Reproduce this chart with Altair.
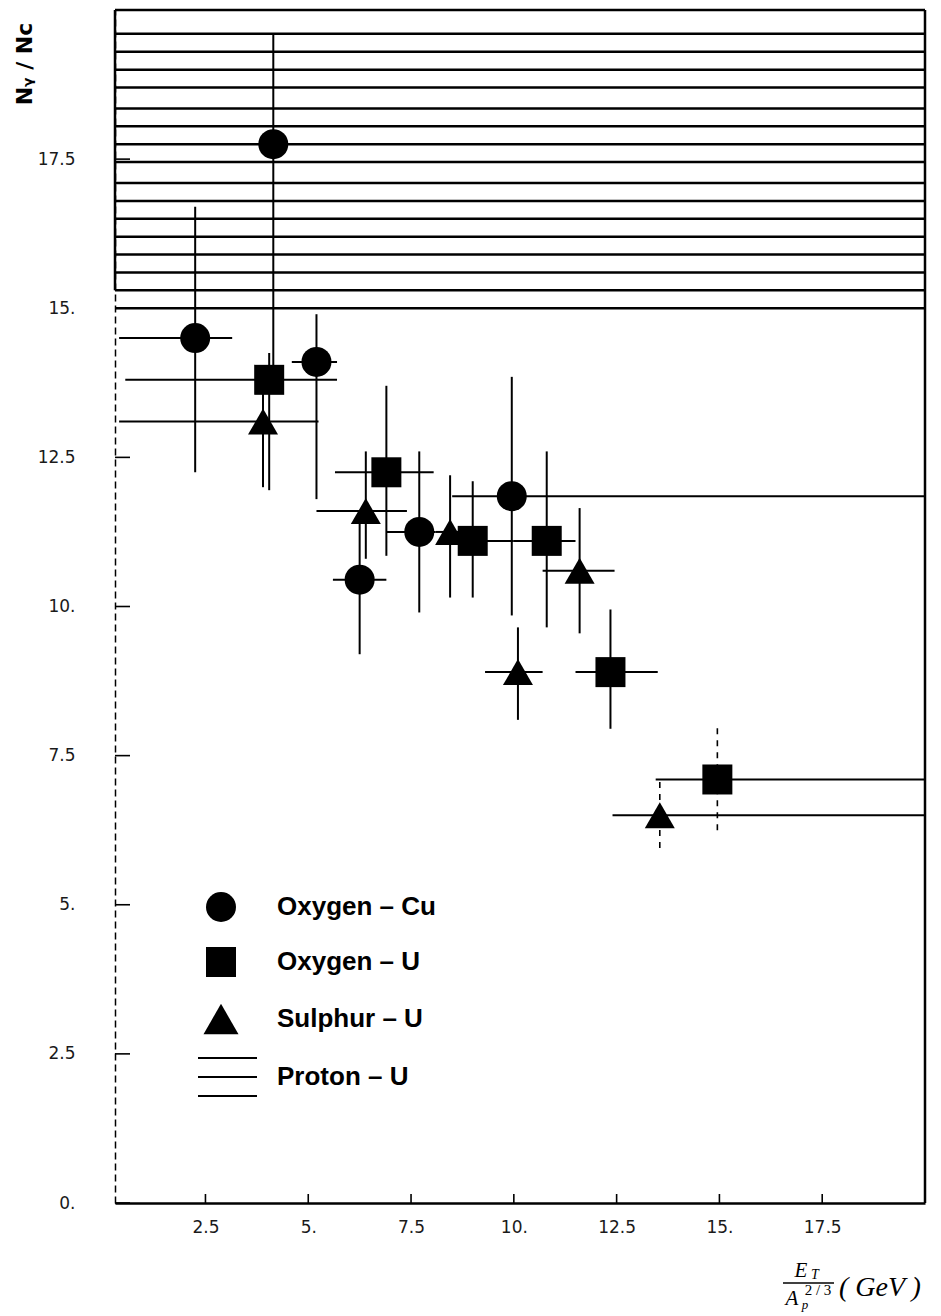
import altair as alt
import pandas as pd

# ---- measured ratios N_gamma / N_c versus E_T / A_p^(2/3) -------------------
SERIES = ["Oxygen – Cu", "Oxygen – U", "Sulphur – U"]

CU_X = [2.25, 4.15, 5.2, 6.25, 7.7, 9.95]
CU_Y = [14.5, 17.75, 14.1, 10.45, 11.25, 11.85]
CU_XLO = [0.4, 4.15, 4.6, 5.6, 6.9, 8.5]
CU_XHI = [3.15, 4.15, 5.7, 6.9, 8.1, 20.0]
CU_YLO = [12.25, 13.9, 11.8, 9.2, 9.9, 9.85]
CU_YHI = [16.7, 19.6, 14.9, 11.4, 12.6, 13.85]

OU_X = [4.05, 6.9, 9.0, 10.8, 12.35, 14.95]
OU_Y = [13.8, 12.25, 11.1, 11.1, 8.9, 7.1]
OU_XLO = [0.55, 5.65, 8.6, 10.0, 11.5, 13.45]
OU_XHI = [5.7, 8.05, 10.0, 11.5, 13.5, 20.0]
OU_YLO = [11.95, 10.85, 10.15, 9.65, 7.95, 6.25]
OU_YHI = [14.25, 13.7, 12.1, 12.6, 9.95, 8.0]

SU_X = [3.9, 6.4, 8.45, 10.1, 11.6, 13.55]
SU_Y = [13.1, 11.6, 11.25, 8.9, 10.6, 6.5]
SU_XLO = [0.4, 5.2, 8.1, 9.3, 10.7, 12.4]
SU_XHI = [5.25, 7.4, 8.8, 10.7, 12.45, 20.0]
SU_YLO = [12.0, 10.8, 10.15, 8.1, 9.55, 5.95]
SU_YHI = [13.8, 12.6, 12.2, 9.65, 11.65, 7.1]

# Proton – U band, drawn as horizontal hatching
PROTON_LINES = [15.0, 15.3, 15.6, 15.9, 16.2, 16.5, 16.8, 17.1, 17.45,
                17.75, 18.05, 18.35, 18.7, 19.0, 19.3, 19.6]
PROTON_LOW = 15.3
PROTON_HIGH = 20.0

X_TICKS = [2.5, 5.0, 7.5, 10.0, 12.5, 15.0, 17.5]
Y_TICKS = [0.0, 2.5, 5.0, 7.5, 10.0, 12.5, 15.0, 17.5]
X_MIN, X_MAX = 0.3, 20.0
Y_MIN, Y_MAX = 0.0, 20.0

W, H = 810, 1193


def frame(name, x, y, xlo, xhi, ylo, yhi):
    return pd.DataFrame({"series": name, "x": x, "y": y, "xlo": xlo,
                         "xhi": xhi, "ylo": ylo, "yhi": yhi})


data = pd.concat([
    frame(SERIES[0], CU_X, CU_Y, CU_XLO, CU_XHI, CU_YLO, CU_YHI),
    frame(SERIES[1], OU_X, OU_Y, OU_XLO, OU_XHI, OU_YLO, OU_YHI),
    frame(SERIES[2], SU_X, SU_Y, SU_XLO, SU_XHI, SU_YLO, SU_YHI),
], ignore_index=True)

# open-ended last bins of the uranium targets carry dashed vertical bars
open_bin = data["series"].isin(SERIES[1:]) & (data["xhi"] >= X_MAX)
solid_v = data[~open_bin]
dashed_v = data[open_bin]

LABEL_EXPR = ("datum.value % 1 == 0 ? format(datum.value, 'd') + '.' "
              ": format(datum.value, '.1f')")

xs = alt.Scale(domain=[X_MIN, X_MAX], nice=False, zero=False)
ys = alt.Scale(domain=[Y_MIN, Y_MAX], nice=False, zero=False)

x_axis = alt.Axis(values=X_TICKS, ticks=False, grid=False, title=None,
                  domainColor="black", domainWidth=2.5,
                  labelFont="DejaVu Sans", labelFontSize=17,
                  labelColor="#1a1a1a", labelPadding=16,
                  labelExpr=LABEL_EXPR)
y_axis = alt.Axis(values=Y_TICKS, ticks=False, grid=False, title=None,
                  domainColor="black", domainWidth=1.5, domainDash=[7, 4],
                  labelFont="DejaVu Sans", labelFontSize=17,
                  labelColor="#1a1a1a", labelPadding=40,
                  labelExpr=LABEL_EXPR)


def X(field):
    return alt.X(field, type="quantitative", scale=xs, axis=x_axis)


def Y(field):
    return alt.Y(field, type="quantitative", scale=ys, axis=y_axis)


# hatched Proton – U region
hatch = alt.Chart(pd.DataFrame({"level": PROTON_LINES})).mark_rule(
    color="black", strokeWidth=2.5
).encode(y=Y("level"), x=alt.value(0), x2=alt.value(W))

hatch_edge = alt.Chart(pd.DataFrame({"lo": [PROTON_LOW], "hi": [PROTON_HIGH]})).mark_rule(
    color="black", strokeWidth=2.5
).encode(y=Y("lo"), y2="hi", x=alt.value(0))

# frame: top and right borders
top_border = alt.Chart(pd.DataFrame({"v": [Y_MAX]})).mark_rule(
    color="black", strokeWidth=2.5
).encode(y=Y("v"), x=alt.value(0), x2=alt.value(W))
right_border = alt.Chart(pd.DataFrame({"v": [X_MAX]})).mark_rule(
    color="black", strokeWidth=2.5
).encode(x=X("v"), y=alt.value(0), y2=alt.value(H))

# inward tick marks
y_ticks = alt.Chart(pd.DataFrame({"v": Y_TICKS})).mark_rule(
    color="black", strokeWidth=1.6
).encode(y=Y("v"), x=alt.value(0), x2=alt.value(15))
x_ticks = alt.Chart(pd.DataFrame({"v": X_TICKS})).mark_rule(
    color="black", strokeWidth=1.6
).encode(x=X("v"), y=alt.value(H), y2=alt.value(H - 9))

# error bars
xerr = alt.Chart(data).mark_rule(color="black", strokeWidth=2).encode(
    x=X("xlo"), x2="xhi", y=Y("y"))
yerr = alt.Chart(solid_v).mark_rule(color="black", strokeWidth=2).encode(
    x=X("x"), y=Y("ylo"), y2="yhi")
yerr_dash = alt.Chart(dashed_v).mark_rule(
    color="black", strokeWidth=1.6, strokeDash=[6, 6]
).encode(x=X("x"), y=Y("ylo"), y2="yhi")

SHAPES = ["circle", "square", "triangle-up"]
SIZES = [900, 900, 1225]

points = alt.Chart(data).mark_point(
    filled=True, opacity=1, color="black", strokeWidth=0
).encode(
    x=X("x"), y=Y("y"),
    shape=alt.Shape("series:N", scale=alt.Scale(domain=SERIES, range=SHAPES), legend=None),
    size=alt.Size("series:N", scale=alt.Scale(domain=SERIES, range=SIZES), legend=None),
)

# ---- hand-drawn key ---------------------------------------------------------
LEGEND_LABELS = SERIES + ["Proton – U"]
LEG_ROW_Y = [897, 952, 1009, 1067]
LEG_SYM_X = 106
LEG_TEXT_X = 162

legend_layers = []
dummy = pd.DataFrame({"k": [0]})
for shape, size, row in zip(SHAPES, SIZES, LEG_ROW_Y):
    legend_layers.append(
        alt.Chart(dummy).mark_point(
            shape=shape, size=size, filled=True, opacity=1,
            color="black", strokeWidth=0
        ).encode(x=alt.value(LEG_SYM_X), y=alt.value(row))
    )
for dy in (-19, 0, 19):
    legend_layers.append(
        alt.Chart(dummy).mark_rule(color="black", strokeWidth=2.2).encode(
            x=alt.value(LEG_SYM_X - 23), x2=alt.value(LEG_SYM_X + 36),
            y=alt.value(LEG_ROW_Y[3] + dy))
    )
for text, row in zip(LEGEND_LABELS, LEG_ROW_Y):
    legend_layers.append(
        alt.Chart(dummy).mark_text(
            text=text, align="left", baseline="middle",
            font="Liberation Sans", fontWeight="bold", fontSize=26, color="black"
        ).encode(x=alt.value(LEG_TEXT_X), y=alt.value(row))
    )


# ---- axis titles --------------------------------------------------------------
def label(text, x, y, size, style="italic", weight="normal",
          font="Liberation Serif", align="center", angle=0):
    kw = dict(text=text, align=align, baseline="middle", font=font,
              fontSize=size, fontStyle=style, fontWeight=weight, color="black")
    if angle:
        kw["angle"] = angle
    return alt.Chart(dummy).mark_text(**kw).encode(x=alt.value(x), y=alt.value(y))


x_title = [
    label("E", 686, 1261, 21),
    label("T", 700, 1265, 14),
    alt.Chart(dummy).mark_rule(color="black", strokeWidth=1.4).encode(
        x=alt.value(668), x2=alt.value(719), y=alt.value(1273)),
    label("A", 677, 1289, 21),
    label("2 / 3", 703, 1280, 15, style="normal"),
    label("p", 690, 1295, 13),
    label("( GeV )", 724, 1278, 28, align="left"),
]

y_title = label("Nᵧ / Nc", -90, 54, 22, style="normal", weight="bold",
                font="DejaVu Sans", angle=270)

chart = alt.layer(
    hatch, hatch_edge, top_border, right_border, y_ticks, x_ticks,
    xerr, yerr, yerr_dash, points, *legend_layers, *x_title, y_title
).properties(
    width=W, height=H,
    autosize=alt.AutoSizeParams(type="none"),
    padding={"left": 115, "top": 10, "right": 16, "bottom": 113},
    background="white",
).configure_view(stroke=None)

chart.save("out.html", embed_options={"renderer": "svg", "actions": False})
